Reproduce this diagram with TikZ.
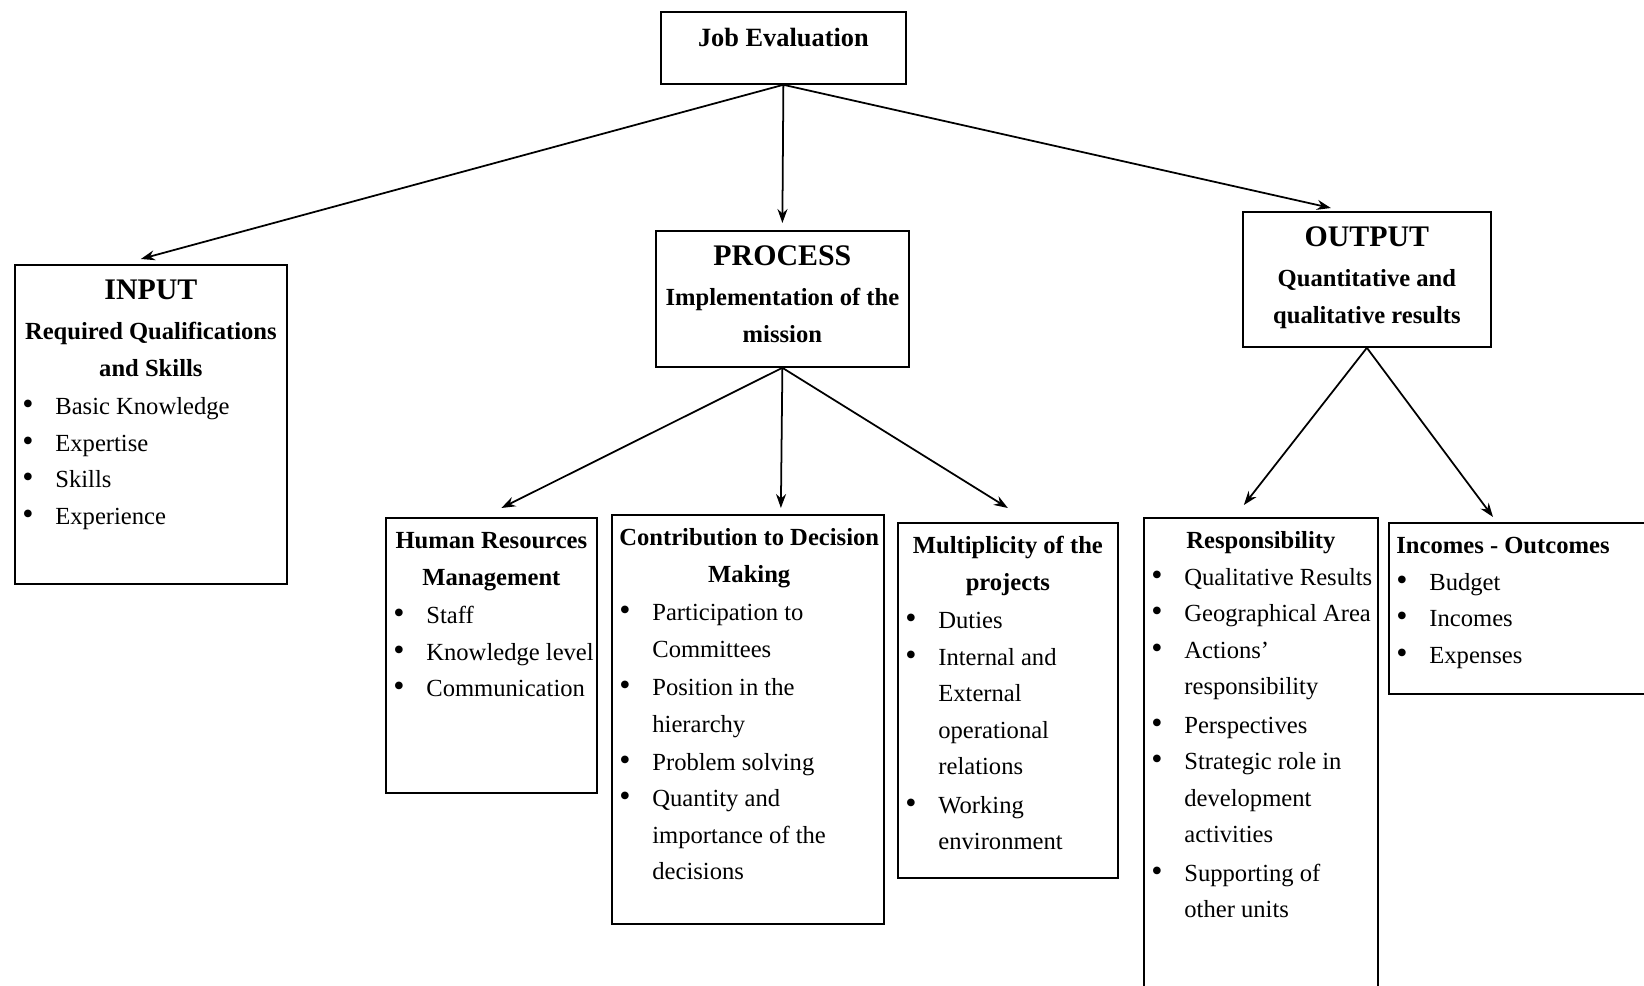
\documentclass[tikz,border=0pt]{standalone}
\usepackage{fontspec}
\setmainfont{Liberation Serif}
\usetikzlibrary{arrows.meta}

% bullet line and bold heading inside a box
\newcommand{\itm}[1]{\par\noindent\makebox[0.66cm][l]{\scalebox{1.3}{\textbullet}}\begin{tabular}[t]{@{}l@{}}#1\end{tabular}}
\newcommand{\hd}[1]{\par{\centering\bfseries\begin{tabular}[t]{@{}c@{}}#1\end{tabular}\par}}
\newcommand{\ttl}[1]{\par{\centering\fontsize{17}{24}\selectfont\bfseries\strut #1\par}}

\tikzset{
    box/.style={draw, line width=1pt, anchor=north west, inner xsep=0.15cm, inner ysep=3pt,
        font=\fontsize{14}{20.8}\selectfont},
    link/.style={line width=1pt, -{Stealth[length=0.28cm,width=0.2cm]}}
}

\begin{document}
\begin{tikzpicture}
    \useasboundingbox (0,0) rectangle (32.88,-19.72);
    \clip (0,0) rectangle (32.88,-19.72);

    % Top box
    \node[box] (job) at (13.2,-0.22) {\begin{minipage}[t][1.23cm][t]{4.6cm}
        \centering\fontsize{15}{24}\selectfont\bfseries\strut Job Evaluation\end{minipage}};

    % Input, process, output
    \node[box] (input) at (0.28,-5.28) {\begin{minipage}[t][6.17cm][t]{5.14cm}
        \ttl{INPUT}
        \hd{Required Qualifications\\and Skills}
        \itm{Basic Knowledge}
        \itm{Expertise}
        \itm{Skills}
        \itm{Experience}
    \end{minipage}};

    \node[box] (process) at (13.1,-4.6) {\begin{minipage}[t][2.51cm][t]{4.76cm}
        \ttl{PROCESS}
        \hd{Implementation of the\\mission}
    \end{minipage}};

    \node[box] (output) at (24.84,-4.22) {\begin{minipage}[t][2.49cm][t]{4.66cm}
        \ttl{OUTPUT}
        \hd{Quantitative and\\qualitative results}
    \end{minipage}};

    % Process parts
    \node[box] (hrm) at (7.7,-10.34) {\begin{minipage}[t][5.29cm][t]{3.92cm}
        \hd{Human Resources\\Management}
        \itm{Staff}
        \itm{Knowledge level}
        \itm{Communication}
    \end{minipage}};

    \node[box] (cdm) at (12.22,-10.28) {\begin{minipage}[t][7.97cm][t]{5.14cm}
        \hd{Contribution to Decision\\Making}
        \itm{Participation to\\Committees}
        \itm{Position in the\\hierarchy}
        \itm{Problem solving}
        \itm{Quantity and\\importance of the\\decisions}
    \end{minipage}};

    \node[box] (mult) at (17.94,-10.44) {\begin{minipage}[t][6.89cm][t]{4.1cm}
        \hd{Multiplicity of the\\projects}
        \itm{Duties}
        \itm{Internal and\\External\\operational\\relations}
        \itm{Working\\environment}
    \end{minipage}};

    % Output parts
    \node[box] (resp) at (22.86,-10.34) {\begin{minipage}[t][9.79cm][t]{4.38cm}
        \hd{Responsibility}
        \itm{Qualitative Results}
        \itm{Geographical Area}
        \itm{Actions’\\responsibility}
        \itm{Perspectives}
        \itm{Strategic role in\\development\\activities}
        \itm{Supporting of\\other units}
    \end{minipage}};

    \node[box] (inc) at (27.76,-10.44) {\begin{minipage}[t][3.21cm][t]{5.7cm}
        {\bfseries\strut Incomes - Outcomes\par}
        \itm{Budget}
        \itm{Incomes}
        \itm{Expenses}
    \end{minipage}};

    % Arrows
    \draw[link] (job.south) -- ([xshift=-0.2cm,yshift=0.1cm]input.north);
    \draw[link] (job.south) -- ([yshift=0.14cm]process.north);
    \draw[link] (job.south) -- ([xshift=-0.72cm,yshift=0.06cm]output.north);

    \draw[link] (process.south) -- ([xshift=0.2cm,yshift=0.18cm]hrm.north);
    \draw[link] (process.south) -- ([xshift=0.66cm,yshift=0.12cm]cdm.north);
    \draw[link] (process.south) -- ([yshift=0.28cm]mult.north);

    \draw[link] (output.south) -- ([xshift=-0.34cm,yshift=0.24cm]resp.north);
    \draw[link] (output.south) -- ([xshift=2.1cm,yshift=0.1cm]inc.north west);
\end{tikzpicture}
\end{document}
